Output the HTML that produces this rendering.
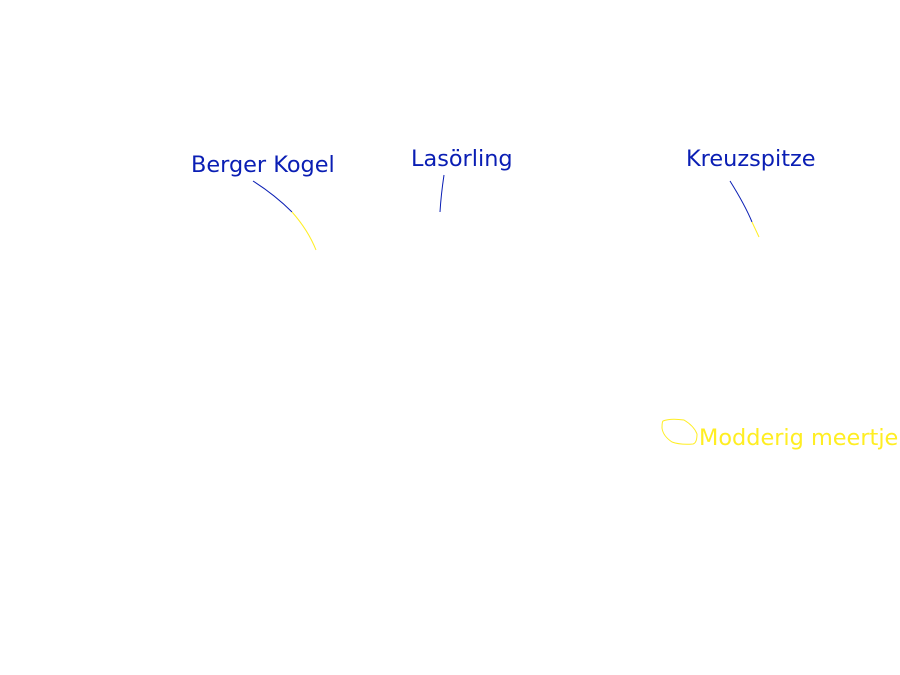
<!DOCTYPE html>
<html><head><meta charset="utf-8"><style>html,body{margin:0;padding:0;background:#fff}svg{display:block}</style></head>
<body>
<svg width="900" height="675" viewBox="0 0 900 675" xmlns="http://www.w3.org/2000/svg">
<rect width="900" height="675" fill="#fff"/>
<g font-family="DejaVu Sans, sans-serif" font-size="22.4">
<text x="191" y="172" fill="#0a1eb4">Berger Kogel</text>
<text x="411" y="166" fill="#0a1eb4">Lasörling</text>
<text x="686" y="166" fill="#0a1eb4">Kreuzspitze</text>
<text x="699" y="445" fill="#ffee22">Modderig meertje</text>
</g>
<g fill="none" stroke-width="1">
<path d="M253,181 Q275,195 292,212" stroke="#0a1eb4"/>
<path d="M292,212 Q308,230 316,250" stroke="#ffee22"/>
<path d="M444,175 Q441,195 440,212" stroke="#0a1eb4"/>
<path d="M730,181 Q745,205 752,222" stroke="#0a1eb4"/>
<path d="M752,222 L759,237" stroke="#ffee22"/>
<path d="M663,421 Q670,418 684,420 Q694,426 697,434 Q697,443 693,444 Q680,445 672,442 Q663,436 662,428 Q662,422 663,421 Z" stroke="#ffee22"/>
</g>
</svg>
</body></html>
